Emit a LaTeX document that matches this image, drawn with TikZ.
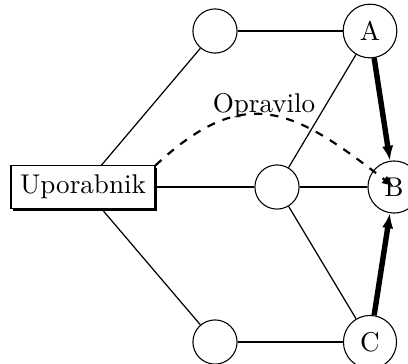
\documentclass[tikz,border=0pt]{standalone}
\usetikzlibrary{shadows,arrows.meta}
\begin{document}
\begin{tikzpicture}[x=0.369pt,y=-0.369pt,
  actor/.style={draw,fill=white,rectangle,
    drop shadow={shadow xshift=0.9pt,shadow yshift=-0.9pt,fill=black,opacity=1}},
  vertex/.style={draw,fill=white,circle,minimum size=16.3pt},
  link/.style={line width=0.45pt},
  flow/.style={line width=2pt,-{Latex[length=5.5pt,width=4.2pt]}},
  task/.style={thick,dashed,-{Latex[length=4.5pt,width=3.4pt]}}]
  \useasboundingbox (0,0) rectangle (408,363);

  % plain links of the network
  \coordinate (pU) at (83,187);
  \coordinate (pT) at (215,31);
  \coordinate (pM) at (277,187);
  \coordinate (pD) at (215,342);
  \coordinate (pA) at (370,31);
  \coordinate (pB) at (394,187);
  \coordinate (pC) at (370,342);

  \node[actor] (U) at (pU) {Uporabnik};
  \node[vertex] (T) at (pT) {};
  \node[vertex] (M) at (pM) {};
  \node[vertex] (D) at (pD) {};
  \node[vertex] (A) at (pA) {A};
  \node[vertex] (B) at (pB) {B};
  \node[vertex] (C) at (pC) {C};

  \draw[link] (U) -- (T);
  \draw[link] (U) -- (M);
  \draw[link] (U) -- (D);
  \draw[link] (T) -- (A);
  \draw[link] (D) -- (C);
  \draw[link] (M) -- (A);
  \draw[link] (M) -- (C);
  \draw[link] (M) -- (B);

  % routed traffic
  \draw[flow] (A) -- (B);
  \draw[flow] (C) -- (B);

  % the task sent by the user
  \draw[task] (U.north east) .. controls +(91,-85) and +(-98,-76) .. (B.center);
  \node[anchor=base] (lbl) at (264,112) {Opravilo};
\end{tikzpicture}
\end{document}
